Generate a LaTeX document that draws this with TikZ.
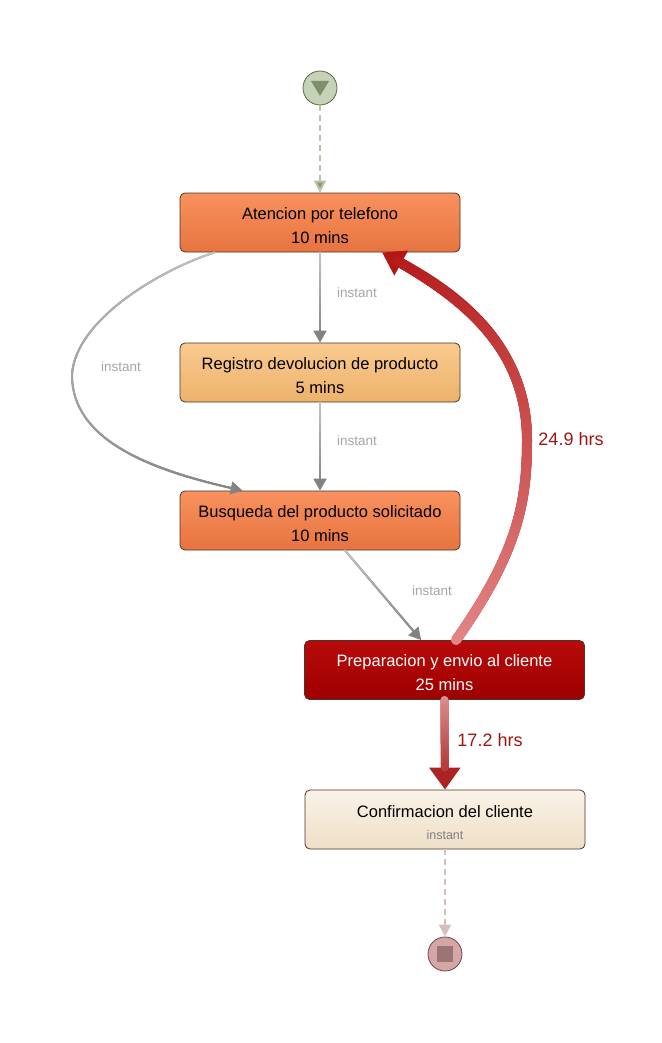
\documentclass[tikz,border=0pt]{standalone}
\usepackage{fontspec}
\setmainfont{Liberation Sans}
\usetikzlibrary{arrows.meta,decorations.markings}
\definecolor{boxline}{HTML}{4A3528}
\definecolor{orT}{HTML}{F8925F}
\definecolor{orB}{HTML}{E7733F}
\definecolor{ltT}{HTML}{F9CA8F}
\definecolor{ltB}{HTML}{EDB26C}
\definecolor{rdT}{HTML}{B80A0A}
\definecolor{rdB}{HTML}{9E0000}
\definecolor{crT}{HTML}{FAF3E9}
\definecolor{crB}{HTML}{EEDFC6}
\definecolor{lblgray}{HTML}{A6A6A6}
\definecolor{gA}{HTML}{C4C4C4}
\definecolor{gB}{HTML}{828282}
\definecolor{redA}{HTML}{E28585}
\definecolor{redB}{HTML}{B31616}
\definecolor{redC}{HTML}{DA8E8E}
\definecolor{redD}{HTML}{AC2323}
\definecolor{hrs}{HTML}{9E1515}
\definecolor{stFill}{HTML}{C6D2B7}
\definecolor{stLine}{HTML}{56664A}
\definecolor{stTri}{HTML}{7E8F6D}
\definecolor{stDash}{HTML}{B8C3AA}
\definecolor{enFill}{HTML}{D4A6A6}
\definecolor{enLine}{HTML}{6A4848}
\definecolor{enSq}{HTML}{9C7474}
\definecolor{enDash}{HTML}{D2C1BB}
\newcommand{\topstrut}{\rule{0pt}{18pt}}
\tikzset{
  box/.style={draw=boxline, line width=0.8pt, rounded corners=5pt,
    minimum width=280pt, minimum height=59pt, align=center, inner sep=0pt,
    font=\fontsize{16.5}{24}\selectfont},
  lbl/.style={text=lblgray, font=\fontsize{13.5}{15}\selectfont},
  hrslbl/.style={text=hrs, font=\fontsize{18}{20}\selectfont},
  gradline/.style n args={4}{postaction={decorate, decoration={markings,
    mark=between positions 0 and -#4 step 0.5pt with {%
      \pgfmathtruncatemacro\gp{(\pgfkeysvalueof{/pgf/decoration/mark info/distance from start})/(\pgfdecoratedpathlength)*100}%
      \fill[#2!\gp!#1] (0,0) circle (#3);}}}},
  grayedge/.style={draw=gB, line width=2pt, -{Triangle[width=13pt,length=12pt]}, gradline={gA}{gB}{1pt}{12pt}},
}
\begin{document}
\begin{tikzpicture}[x=1pt,y=-1pt]
\useasboundingbox (0,0) rectangle (661,1043);
\fill[white] (0,0) rectangle (661,1043);

% start / end events
\node[circle, draw=stLine, line width=0.8pt, fill=stFill, minimum size=34pt, inner sep=0pt] (start) at (320,88) {};
\fill[stTri] ([shift={(-9,-7)}]start.center) -- ([shift={(9,-7)}]start.center) -- ([shift={(0,8)}]start.center) -- cycle;
\node[circle, draw=enLine, line width=0.8pt, fill=enFill, minimum size=34pt, inner sep=0pt] (end) at (445,954) {};
\fill[enSq] ([shift={(-8,-8)}]end.center) rectangle ([shift={(8,8)}]end.center);

% activities
\node[box, top color=orT, bottom color=orB] (aten) at (320,222.5) {\topstrut Atencion por telefono\\10 mins};
\node[box, top color=ltT, bottom color=ltB] (reg) at (320,372.5) {\topstrut Registro devolucion de producto\\5 mins};
\node[box, top color=orT, bottom color=orB] (busq) at (320,520.5) {\topstrut Busqueda del producto solicitado\\10 mins};
\node[box, top color=rdT, bottom color=rdB, text=white] (prep) at (444.5,670) {\topstrut Preparacion y envio al cliente\\25 mins};
\node[box, top color=crT, bottom color=crB] (conf) at (445,819.5) {\topstrut Confirmacion del cliente\\[-2pt]{\fontsize{12.5}{13}\selectfont\color{gray}instant}};

% dashed start/end connectors
\draw[stDash, line width=2pt, dash pattern=on 6pt off 4pt, -{Triangle[width=12pt,length=12pt,fill=stTri!80!stDash]}] (start.south) -- (aten.north);
\draw[enDash, line width=2pt, dash pattern=on 6pt off 4pt, -{Triangle[width=12pt,length=12pt]}] (conf.south) -- (end.north);

% gray connectors
\draw[grayedge] (aten.south) -- (reg.north);
\draw[grayedge] (reg.south) -- (busq.north);
\draw[grayedge] ([xshift=35pt]aten.south west) .. controls (160,270) and (75,320) .. (72,375)
  .. controls (72,440) and (150,470) .. ([xshift=63pt]busq.north west);
\draw[grayedge] ([xshift=25pt]busq.south) -- ([xshift=117pt]prep.north west);

\node[lbl] (l1) at (357,293) {instant};
\node[lbl] (l2) at (121,367) {instant};
\node[lbl] (l3) at (357,441) {instant};
\node[lbl] (l4) at (432,591) {instant};

% red connectors
\draw[draw=redB, line width=10pt, -{Triangle[width=27pt,length=22pt]}, gradline={redA}{redB}{5pt}{22pt}]
  ([xshift=11.5pt]prep.north) .. controls (519,551) and (527,500) .. (527,440)
  .. controls (527,340) and (450,290) .. ([xshift=62pt]aten.south);
\draw[draw=redD, line width=8pt, -{Triangle[width=30pt,length=22pt]}, gradline={redC}{redD}{4pt}{22pt}]
  (prep.south) -- (conf.north);

\node[hrslbl] (h1) at (571,439) {24.9 hrs};
\node[hrslbl] (h2) at (490,740) {17.2 hrs};
\end{tikzpicture}
\end{document}
